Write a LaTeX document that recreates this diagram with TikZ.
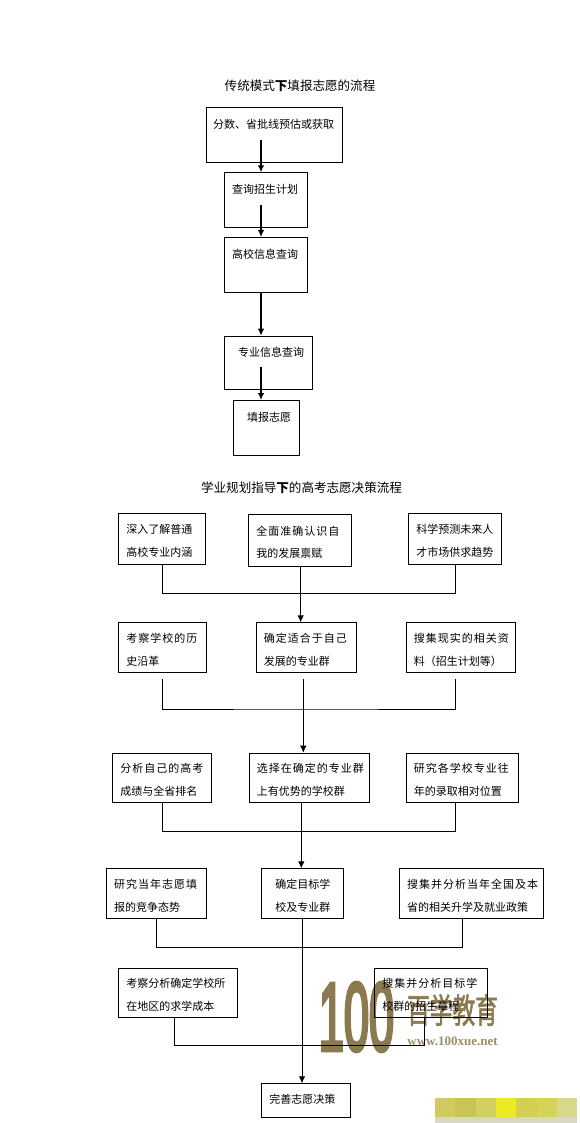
\documentclass[tikz,border=0pt]{standalone}
\usepackage{fontspec}
\usetikzlibrary{arrows.meta}
\setmainfont{Noto Sans CJK SC}
\newfontfamily\cnwide[LetterSpace=9]{Noto Sans CJK SC}
\newfontfamily\logosans[FakeBold=5]{Liberation Sans}
\newfontfamily\logocn[FakeBold=2]{Noto Sans CJK SC}
\newfontfamily\logoserif{Liberation Serif}

\definecolor{logobrown}{HTML}{8B7A50}
\definecolor{patchgrey}{HTML}{D8D8C4}
\definecolor{patcha}{HTML}{CFCB60}
\definecolor{patchb}{HTML}{C8C45A}
\definecolor{patchc}{HTML}{D2CF64}
\definecolor{patchd}{HTML}{ECEA22}
\definecolor{patche}{HTML}{D2D050}
\definecolor{patchf}{HTML}{D6D35A}
\definecolor{patchg}{HTML}{D9D88A}

\tikzset{
  flowbox/.style 2 args={draw, line width=0.9pt, anchor=north west, inner ysep=0pt, inner xsep=7.7pt,
    align=left, text width=#1pt-15.4pt, minimum height=#2pt, text depth=20pt, font=\fontsize{11}{22.6}\selectfont},
  plainbox/.style 2 args={draw, line width=0.9pt, anchor=north west, inner sep=0pt,
    minimum width=#1pt, minimum height=#2pt},
  boxlabel/.style={inner sep=0pt, font=\fontsize{11}{13}\selectfont},
  heading/.style={inner sep=0pt, font=\fontsize{12.55}{15}\selectfont},
  busline/.style={line width=0.9pt},
  flowarrow/.style={line width=0.9pt, -{Latex[length=7pt,width=6.5pt]}},
  thickarrow/.style={line width=1.4pt, -{Latex[length=7pt,width=6.5pt]}}
}

\begin{document}
\begin{tikzpicture}[x=1pt,y=-1pt]
  \useasboundingbox (0,0) rectangle (580,1123);

  % Watermark
  \node[inner sep=0pt, xscale=0.47, text=logobrown] (logonum) at (356.5,1017)
    {\fontsize{96}{96}\logosans 100};
  \node[inner sep=0pt, yscale=1.5, text=logobrown] (logoname) at (452.5,1010)
    {\fontsize{22.7}{24}\logocn 百学教育};
  \node[inner sep=0pt, text=logobrown!85] (logourl) at (452.5,1041)
    {\fontsize{13}{14}\logoserif\bfseries www.100xue.net};

  % Patches in the corner
  \fill[patchgrey] (435,1117) rectangle (577,1123);
  \foreach \i/\c in {0/patcha,1/patchb,2/patchc,3/patchd,4/patche,5/patchf,6/patchg}
    \fill[\c] (435+20.3*\i,1098) rectangle (435+20.3*\i+20.3,1117);

  % Upper flow
  \node[heading] (title1) at (300,86) {传统模式{\bfseries 下}填报志愿的流程};

  \node[plainbox={136}{55}] (info1) at (205.7,107.3) {};
  \node[plainbox={83}{55}]  (info2) at (224,172.3) {};
  \node[plainbox={83}{55}]  (info3) at (224,237) {};
  \node[plainbox={88}{53.5}] (info4) at (224,335.7) {};
  \node[plainbox={66}{55}]  (info5) at (233.3,400) {};

  \node[boxlabel] (info1text) at (273.5,124.5) {分数、省批线预估或获取};
  \node[boxlabel] (info2text) at (265,189) {查询招生计划};
  \node[boxlabel] (info3text) at (265,254) {高校信息查询};
  \node[boxlabel] (info4text) at (271,352) {专业信息查询};
  \node[boxlabel] (info5text) at (269,417) {填报志愿};

  \coordinate (start1) at (261,140);
  \coordinate (start2) at (261,205);
  \coordinate (start3) at (261,292);
  \coordinate (start4) at (261,366.7);
  \draw[thickarrow] (start1) -- (start1 |- info2.north);
  \draw[thickarrow] (start2) -- (start2 |- info3.north);
  \draw[thickarrow] (start3) -- (start3 |- info4.north);
  \draw[thickarrow] (start4) -- (start4 |- info5.north);

  % Lower flow
  \node[heading] (title2) at (301.5,488) {学业规划指导{\bfseries 下}的高考志愿决策流程};

  % First row
  \node[flowbox={87}{51}]    (rowAa) at (118.3,513.3) {深入了解普通\\高校专业内涵};
  \node[flowbox={102.4}{51.4}] (rowAb) at (248.3,514.3) {{\cnwide 全面准确认识自}\\我的发展禀赋};
  \node[flowbox={93}{51}]    (rowAc) at (408.3,513.3) {科学预测未来人\\才市场供求趋势};

  % Second row
  \node[flowbox={87.4}{50}]  (rowBa) at (118.3,622.3) {{\cnwide 考察学校的历}\\史沿革};
  \node[flowbox={100.3}{50}] (rowBb) at (255.7,622.3) {{\cnwide 确定适合于自己}\\发展的专业群};
  \node[flowbox={109}{50}]   (rowBc) at (405.7,622.3) {{\cnwide 搜集现实的相关资}\\料（招生计划等）};

  % Third row
  \node[flowbox={99}{49.6}]  (rowCa) at (112.3,752.7) {{\cnwide 分析自己的高考}\\成绩与全省排名};
  \node[flowbox={120}{49.6}] (rowCb) at (248.7,752.7) {{\cnwide 选择在确定的专业群}\\上有优势的学校群};
  \node[flowbox={112.3}{49.6}] (rowCc) at (405.7,752.7) {{\cnwide 研究各学校专业往}\\年的录取相对位置};

  % Fourth row
  \node[flowbox={99.7}{50}]  (rowDa) at (106,868.3) {{\cnwide 研究当年志愿填}\\报的竞争态势};
  \node[flowbox={82}{50}, align=center] (rowDb) at (261.3,868.3) {确定目标学\\校及专业群};
  \node[flowbox={143.7}{50}] (rowDc) at (399,868.3) {{\cnwide 搜集并分析当年全国及本}\\省的相关升学及就业政策};

  % Fifth row
  \node[flowbox={118.7}{49.6}] (rowEa) at (118.3,967.7) {考察分析确定学校所\\在地区的求学成本};
  \node[flowbox={112.4}{49.6}] (rowEc) at (374.3,967.7) {{\cnwide 搜集并分析目标学}\\校群的招生章程};

  \node[flowbox={88.7}{34}, text depth=3pt]  (rowFb) at (261.3,1083.3) {完善志愿决策};

  % Joins between rows
  \coordinate (busA) at (300.7,593.3);
  \coordinate (busB) at (303.3,709);
  \coordinate (busC) at (301.3,831);
  \coordinate (busD) at (302,947.3);
  \coordinate (busE) at (302,1045.3);

  \coordinate (tapBa) at (162.7,679.3);
  \coordinate (tapBb) at (303.3,679.3);
  \coordinate (tapBc) at (455.3,679.3);
  \coordinate (tapCc) at (455.3,802.3);
  \coordinate (tapDc) at (462,918.3);
  \coordinate (tapEa) at (174.3,1017.3);
  \coordinate (tapEc) at (424.3,1017.3);

  \draw[busline] (rowAa.south) |- (busA) -| (rowAc.south);
  \draw[busline] (tapBa) |- (busB) -| (tapBc);
  \draw[busline] (rowCa.south) |- (busC) -| (tapCc);
  \draw[busline] (rowDa.south) |- (busD) -| (tapDc);
  \draw[busline] (tapEa) |- (busE) -| (tapEc);

  \draw[flowarrow] (busA |- rowAb.south) -- (busA |- rowBb.north);
  \draw[flowarrow] (tapBb) -- (tapBb |- rowCb.north);
  \draw[flowarrow] (busC |- rowCb.south) -- (busC |- rowDb.north);
  \draw[flowarrow] (busD |- rowDb.south) -- (busD |- rowFb.north);
\end{tikzpicture}
\end{document}
